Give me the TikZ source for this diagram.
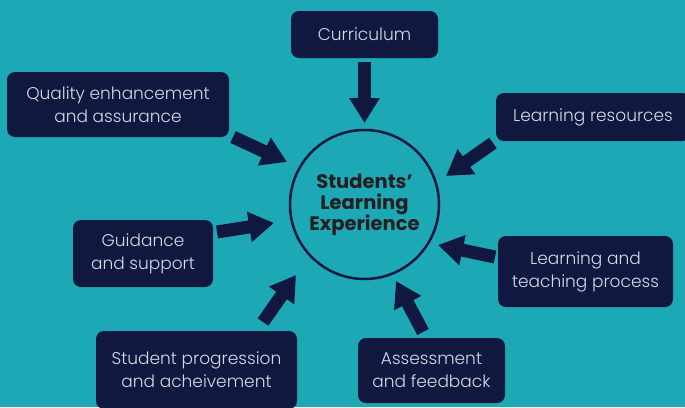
\documentclass[tikz,border=0pt]{standalone}
\usepackage{fontspec}
\setmainfont{Poppins}
\newfontfamily\lightfont{Poppins Light}
\usetikzlibrary{arrows.meta}

\definecolor{teal}{RGB}{29,168,181}
\definecolor{navy}{RGB}{16,24,63}
\definecolor{boxtext}{RGB}{214,217,228}
\definecolor{ink}{RGB}{35,31,32}

\begin{document}
\begin{tikzpicture}[x=1pt,y=-1pt,
    box/.style={rectangle,rounded corners=8pt,fill=navy,text=boxtext,align=center,
        inner sep=0pt,font=\lightfont\fontsize{17}{23}\selectfont},
    hub/.style={circle,draw=navy,line width=2.5pt,minimum size=149pt,inner sep=0pt,
        text=ink,align=center,font=\bfseries\fontsize{19.5}{21}\selectfont},
    bigarrow/.style={navy,line width=13pt,-{Triangle[width=29pt,length=25pt]}}]
            \useasboundingbox (0,0) rectangle (685,407);
            \clip (0,0) rectangle (685,407);
            \fill[teal] (0,0) rectangle (685,407);

            \node[hub] (exp) at (364.5,204.5) {Students'\\Learning\\Experience};

            \node[box,minimum width=147pt,minimum height=47pt] (cur) at (364.5,34.5) {Curriculum};
            \node[box,minimum width=222pt,minimum height=65pt] (qual) at (118,104.5) {Quality enhancement\\and assurance};
            \node[box,minimum width=194pt,minimum height=48pt] (res) at (593,117) {Learning resources};
            \node[box,minimum width=175pt,minimum height=71pt] (lt) at (585.5,271.5) {Learning and\\teaching process};
            \node[box,minimum width=140pt,minimum height=67pt] (gui) at (143,253.5) {Guidance\\and support};
            \node[box,minimum width=201pt,minimum height=78pt] (stu) at (196.5,370) {Student progression\\and acheivement};
            \node[box,minimum width=147pt,minimum height=65pt] (ass) at (431.5,370.5) {Assessment\\and feedback};

            \coordinate (cur-t) at (364.5,62);
            \coordinate (cur-h) at (364.5,123);
            \coordinate (qual-t) at (233,137);
            \coordinate (qual-h) at (287,162);
            \coordinate (res-t) at (493,143);
            \coordinate (res-h) at (446,176);
            \coordinate (lt-t) at (495,257);
            \coordinate (lt-h) at (438,245);
            \coordinate (gui-t) at (217,232);
            \coordinate (gui-h) at (274,223);
            \coordinate (stu-t) at (263,322);
            \coordinate (stu-h) at (296,275);
            \coordinate (ass-t) at (423,332);
            \coordinate (ass-h) at (396,281);

            \draw[bigarrow] (cur-t) -- (cur-h);
            \draw[bigarrow] (qual-t) -- (qual-h);
            \draw[bigarrow] (res-t) -- (res-h);
            \draw[bigarrow] (lt-t) -- (lt-h);
            \draw[bigarrow] (gui-t) -- (gui-h);
            \draw[bigarrow] (stu-t) -- (stu-h);
            \draw[bigarrow] (ass-t) -- (ass-h);
        \end{tikzpicture}
\end{document}
